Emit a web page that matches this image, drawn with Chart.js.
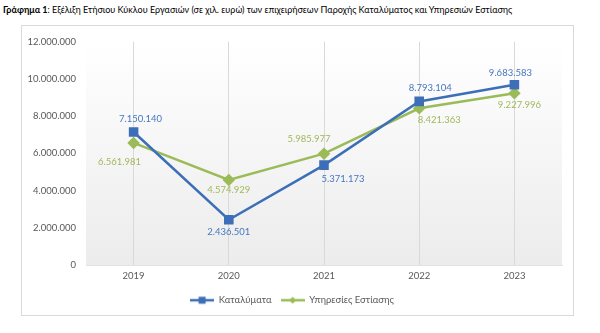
<!DOCTYPE html>
<html lang="el">
<head>
  <meta charset="utf-8" />
  <title>Γράφημα 1</title>
  <style>
    body { margin: 0; background: #fff; font-family: Lato, sans-serif; }
    #title { position: absolute; left: 3px; top: 4px; font-size: 9px; color: #000; white-space: nowrap; }
    #box { position: absolute; left: 21px; top: 25px; width: 551px; height: 289px; border: 1px solid #d9d9d9; }
  </style>
  <script src="https://cdn.jsdelivr.net/npm/chart.js"></script>
</head>
<body>
  <div id="title"><b>Γράφημα 1</b>: Εξέλιξη Ετήσιου Κύκλου Εργασιών (σε χιλ. ευρώ) των επιχειρήσεων Παροχής Καταλύματος και Υπηρεσιών Εστίασης</div>
  <div id="box"><canvas id="chart" width="551" height="289"></canvas></div>
  <script>
    const years = ['2019', '2020', '2021', '2022', '2023'];
    const katalymata = [7150140, 2436501, 5371173, 8793104, 9683583];
    const estiasi = [6561981, 4574929, 5985977, 8421363, 9227996];
    const yTicks = [0, 2000000, 4000000, 6000000, 8000000, 10000000, 12000000];

    // label offsets (px) relative to each point
    const blueLabelPos = [[7, -13], [0, 12], [19, 14], [11, -13], [-4, -12]];
    const greenLabelPos = [[-14, 19], [0, 10], [-15, -15], [20, 12], [5, 12]];

    const fmt = v => v.toString().replace(/\B(?=(\d{3})+(?!\d))/g, '.');

    const BLUE = '#3d6fb8';
    const GREEN = '#9bbb59';
    const FONT = { family: 'Lato', size: 9.5 };

    // legend symbol: short line with the marker in the middle
    function legendIcon(color, style) {
      const c = document.createElement('canvas');
      c.width = 24; c.height = 10;
      const x = c.getContext('2d');
      x.strokeStyle = color; x.fillStyle = color; x.lineWidth = 2.5;
      x.beginPath(); x.moveTo(0, 5); x.lineTo(24, 5); x.stroke();
      if (style === 'rect') {
        x.fillRect(8.5, 1.5, 7, 7);
      } else {
        x.beginPath(); x.moveTo(12, 1.5); x.lineTo(15.5, 5); x.lineTo(12, 8.5); x.lineTo(8.5, 5); x.closePath(); x.fill();
      }
      return c;
    }

    const bgPlugin = {
      id: 'bg',
      beforeDraw(chart) {
        const { ctx, chartArea: a } = chart;
        const g = ctx.createLinearGradient(0, a.top, 0, a.bottom);
        g.addColorStop(0, '#ffffff');
        g.addColorStop(1, '#ececec');
        ctx.save();
        ctx.fillStyle = g;
        ctx.fillRect(a.left, a.top, a.right - a.left, a.bottom - a.top);
        ctx.restore();
      }
    };

    const labelPlugin = {
      id: 'labels',
      afterDatasetsDraw(chart) {
        const ctx = chart.ctx;
        ctx.save();
        ctx.font = '9.5px Lato';
        ctx.textAlign = 'center';
        ctx.textBaseline = 'middle';
        chart.data.datasets.forEach((ds, i) => {
          const pos = i === 0 ? blueLabelPos : greenLabelPos;
          ctx.fillStyle = i === 0 ? '#4677c0' : '#a2b85c';
          chart.getDatasetMeta(i).data.forEach((pt, j) => {
            ctx.fillText(fmt(ds.data[j]), pt.x + pos[j][0], pt.y + pos[j][1]);
          });
        });
        ctx.restore();
      }
    };

    new Chart(document.getElementById('chart'), {
      type: 'line',
      data: {
        labels: years,
        datasets: [
          {
            label: 'Καταλύματα', data: katalymata, borderColor: BLUE, backgroundColor: BLUE,
            borderWidth: 2.5, pointStyle: 'rect', pointRadius: 5, pointHoverRadius: 5, tension: 0
          },
          {
            label: 'Υπηρεσίες Εστίασης', data: estiasi, borderColor: GREEN, backgroundColor: GREEN,
            borderWidth: 2.5, pointStyle: 'rectRot', pointRadius: 4.5, pointHoverRadius: 4.5, tension: 0
          }
        ]
      },
      options: {
        responsive: false,
        animation: false,
        layout: { padding: { top: 8, right: 11, bottom: 0, left: 0 } },
        plugins: {
          tooltip: { enabled: false },
          legend: {
            position: 'bottom',
            labels: {
              usePointStyle: true, pointStyleWidth: 24, color: '#595959', font: FONT, padding: 9,
              generateLabels: chart => chart.data.datasets.map((ds, i) => ({
                text: ds.label,
                pointStyle: legendIcon(ds.borderColor, ds.pointStyle),
                fontColor: '#595959',
                datasetIndex: i,
                hidden: false,
                lineWidth: 0
              }))
            }
          }
        },
        scales: {
          x: {
            offset: true,
            grid: { offset: false, color: '#d9d9d9', drawTicks: false },
            border: { display: true, color: '#e3e3e3' },
            ticks: { color: '#595959', font: FONT, padding: 5 }
          },
          y: {
            min: 0, max: 12000000,
            afterBuildTicks: s => { s.ticks = yTicks.map(v => ({ value: v })); },
            afterFit: s => { s.width = 64; },
            grid: { display: false, drawTicks: false },
            border: { display: false },
            ticks: { color: '#595959', font: FONT, padding: 10, callback: v => fmt(v) }
          }
        }
      },
      plugins: [bgPlugin, labelPlugin]
    });
  </script>
</body>
</html>
